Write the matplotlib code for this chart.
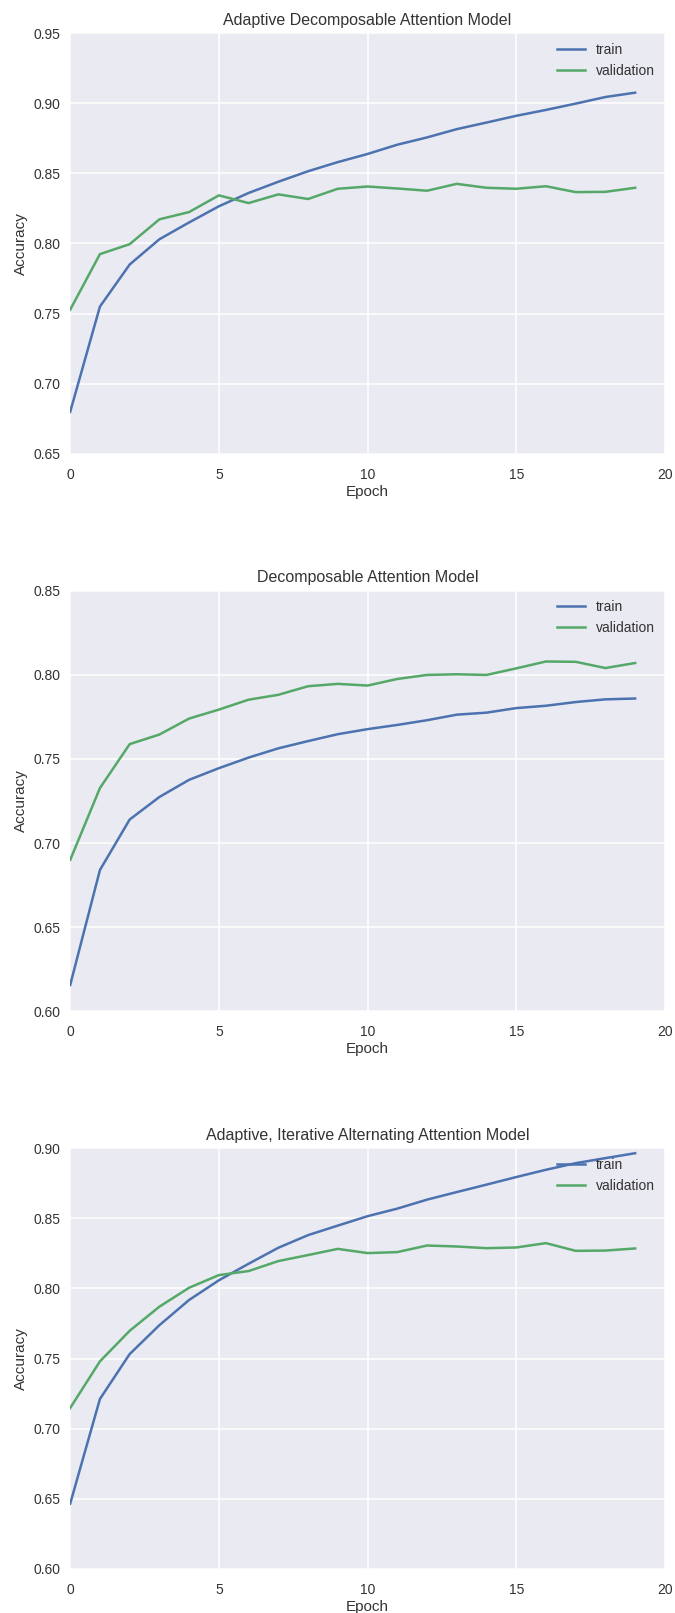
import matplotlib
matplotlib.use("Agg")
import matplotlib.pyplot as plt
import numpy as np

epochs = list(range(20))

titles = ["Adaptive Decomposable Attention Model",
          "Decomposable Attention Model",
          "Adaptive, Iterative Alternating Attention Model"]

train_adaptive = [0.680, 0.755, 0.785, 0.803, 0.815, 0.8265, 0.836, 0.844, 0.8515, 0.858,
                  0.8638, 0.8704, 0.8756, 0.8815, 0.8862, 0.891, 0.8952, 0.8997, 0.9044, 0.9075]
val_adaptive = [0.7528, 0.7924, 0.7995, 0.8172, 0.8224, 0.8343, 0.8288, 0.835, 0.8317, 0.839,
                0.8406, 0.8392, 0.8376, 0.8425, 0.8397, 0.839, 0.8408, 0.8366, 0.8368, 0.8397]

train_decomp = [0.6157, 0.684, 0.714, 0.7274, 0.7376, 0.7445, 0.7508, 0.7563, 0.7606, 0.7647,
                0.7677, 0.7702, 0.773, 0.7763, 0.7775, 0.7802, 0.7816, 0.7838, 0.7854, 0.7859]
val_decomp = [0.690, 0.7327, 0.7588, 0.7645, 0.774, 0.7793, 0.7852, 0.7881, 0.7932, 0.7946,
              0.7936, 0.7975, 0.7999, 0.8003, 0.7999, 0.8038, 0.8079, 0.8077, 0.804, 0.807]

train_iaa = [0.6466, 0.7212, 0.7532, 0.7738, 0.7918, 0.8058, 0.8176, 0.829, 0.838, 0.8448,
             0.8515, 0.8569, 0.8633, 0.8687, 0.874, 0.8794, 0.8846, 0.8893, 0.8929, 0.8964]
val_iaa = [0.7148, 0.748, 0.7698, 0.787, 0.8005, 0.8095, 0.8124, 0.8195, 0.8238, 0.8282,
           0.8252, 0.8259, 0.8306, 0.8299, 0.8287, 0.8292, 0.8323, 0.8268, 0.827, 0.8285]

ylims = [(0.65, 0.95), (0.60, 0.85), (0.60, 0.90)]

plt.rcParams['font.family'] = ['Liberation Sans', 'DejaVu Sans']
plt.rcParams['text.color'] = '.2'
plt.rcParams['axes.labelcolor'] = '.2'
plt.rcParams['xtick.color'] = '.2'
plt.rcParams['ytick.color'] = '.2'

fig, axes = plt.subplots(3, 1, figsize=(6.75, 16.13), dpi=100)
fig.subplots_adjust(left=0.104, right=0.985, top=0.9795, bottom=0.0273, hspace=0.325)

series = [(train_adaptive, val_adaptive), (train_decomp, val_decomp), (train_iaa, val_iaa)]

for ax, title, (tr, va), yl in zip(axes, titles, series, ylims):
    ax.set_facecolor('#EAEAF2')
    for s in ax.spines.values():
        s.set_visible(False)
    ax.grid(True, color='white', linewidth=1.1)
    ax.set_axisbelow(True)
    ax.plot(epochs, tr, color='#4C72B0', linewidth=1.8, label='train')
    ax.plot(epochs, va, color='#55A868', linewidth=1.8, label='validation')
    ax.set_xlim(0, 20)
    ax.set_ylim(*yl)
    ax.set_xticks([0, 5, 10, 15, 20])
    ax.set_yticks(np.arange(yl[0], yl[1] + 0.001, 0.05))
    ax.yaxis.set_major_formatter(matplotlib.ticker.FormatStrFormatter('%.2f'))
    ax.tick_params(length=0, labelsize=10)
    ax.tick_params(axis='x', pad=10)
    ax.tick_params(axis='y', pad=7)
    ax.set_title(title, fontsize=11.5)
    ax.set_xlabel('Epoch', fontsize=11, labelpad=2)
    ax.set_ylabel('Accuracy', fontsize=11)
    ax.legend(loc='upper right', frameon=False, fontsize=10, borderaxespad=0.3)

plt.savefig('out.png')
